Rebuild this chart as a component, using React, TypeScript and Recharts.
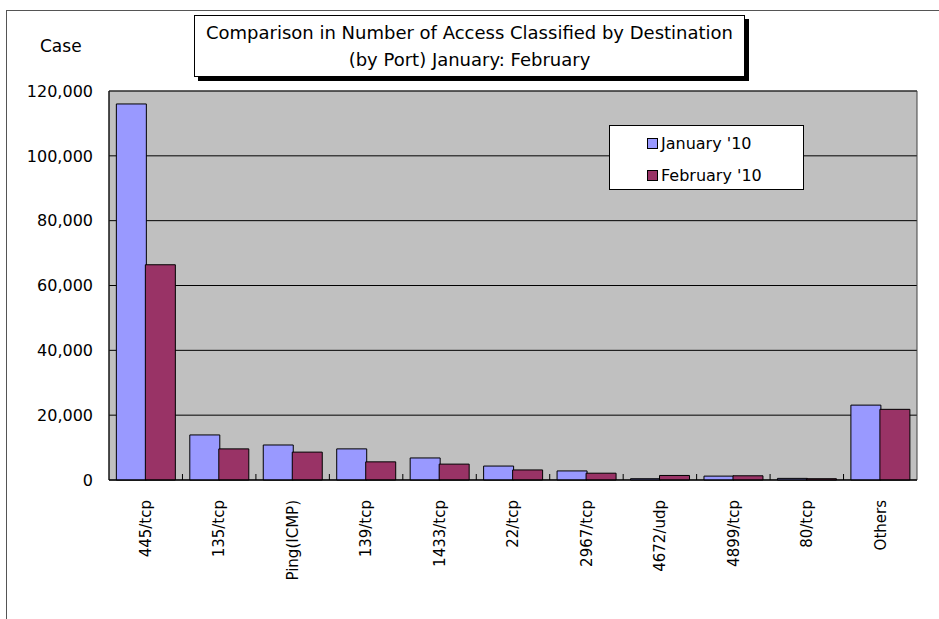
import { BarChart, Bar, XAxis, YAxis, CartesianGrid, Legend, ReferenceArea } from 'recharts';

const categories = ['445/tcp', '135/tcp', 'Ping(ICMP)', '139/tcp', '1433/tcp', '22/tcp', '2967/tcp', '4672/udp', '4899/tcp', '80/tcp', 'Others'];
const january = [116000, 13900, 10800, 9600, 6800, 4300, 2800, 400, 1200, 500, 23100];
const february = [66400, 9600, 8600, 5600, 4900, 3100, 2100, 1400, 1300, 400, 21800];
const yTicks = [0, 20000, 40000, 60000, 80000, 100000, 120000];

const JAN_COLOR = '#9999FF';
const FEB_COLOR = '#993366';
const FONT = '"DejaVu Sans", Verdana, sans-serif';

const data = categories.map((port, i) => ({
  port,
  jan: january[i],
  feb: february[i],
}));

const PortTick = (props: any) => {
  const { x, y, payload, index, visibleTicksCount } = props;
  const half = payload.offset ?? 0;
  const axisY = y - 20;
  return (
    <g>
      {index < visibleTicksCount - 1 && (
        <line x1={x + half} x2={x + half} y1={axisY} y2={axisY - 6} stroke="#000" />
      )}
      <text
        transform={`translate(${x},${y}) rotate(-90)`}
        textAnchor="end"
        dy="0.35em"
        fontSize={15}
        fontFamily={FONT}
        fill="#000"
      >
        {payload.value}
      </text>
    </g>
  );
};

const LegendBox = () => {
  const items = [
    { label: "January '10", color: JAN_COLOR },
    { label: "February '10", color: FEB_COLOR },
  ];
  return (
    <div
      style={{
        width: 195,
        height: 65,
        boxSizing: 'border-box',
        background: '#fff',
        border: '1px solid #000',
        paddingLeft: 37,
        paddingTop: 6,
        fontFamily: FONT,
        fontSize: 16,
      }}
    >
      {items.map(item => (
        <div key={item.label} style={{ display: 'flex', alignItems: 'center', height: 22, marginBottom: 10 }}>
          <span
            style={{
              display: 'inline-block',
              width: 9,
              height: 9,
              background: item.color,
              border: '1px solid #000',
              marginRight: 3,
            }}
          />
          <span>{item.label}</span>
        </div>
      ))}
    </div>
  );
};

export default function App() {
  return (
    <div
      style={{
        position: 'absolute',
        left: 0,
        top: 0,
        width: 939,
        height: 619,
        background: '#fff',
        overflow: 'hidden',
        fontFamily: FONT,
      }}
    >
      <div
        style={{
          position: 'absolute',
          left: 6,
          top: 10,
          width: 960,
          height: 640,
          border: '1px solid #555',
        }}
      />
      <BarChart
        width={939}
        height={619}
        data={data}
        margin={{ top: 91, right: 22, bottom: 0, left: 0 }}
        barCategoryGap="10%"
        barGap={-1}
      >
        <CartesianGrid vertical={false} stroke="#000" fill="#C0C0C0" />
        <XAxis
          dataKey="port"
          interval={0}
          height={139}
          tickSize={0}
          tickMargin={20}
          tickLine={false}
          axisLine={{ stroke: '#000' }}
          tick={<PortTick />}
        />
        <YAxis
          domain={[0, 120000]}
          ticks={yTicks}
          width={109}
          tickSize={0}
          tickMargin={16}
          tickLine={false}
          axisLine={{ stroke: '#000' }}
          tick={{ fontSize: 16, fontFamily: FONT, fill: '#000' }}
          tickFormatter={(v: number) => v.toLocaleString('en-US')}
        />
        <Bar dataKey="jan" name="January '10" fill={JAN_COLOR} stroke="#000" strokeWidth={1} isAnimationActive={false} />
        <Bar dataKey="feb" name="February '10" fill={FEB_COLOR} stroke="#000" strokeWidth={1} isAnimationActive={false} />
        <ReferenceArea y1={0} y2={120000} fill="none" stroke="#404040" strokeWidth={1} />
        <Legend
          layout="vertical"
          align="center"
          verticalAlign="middle"
          content={<LegendBox />}
          wrapperStyle={{ left: 609, top: 125, width: 195, height: 65 }}
        />
      </BarChart>
      <div
        style={{
          position: 'absolute',
          left: 40,
          top: 36,
          fontSize: 17,
          color: '#000',
        }}
      >
        Case
      </div>
      <div
        style={{
          position: 'absolute',
          left: 194,
          top: 15,
          width: 551,
          height: 62,
          boxSizing: 'border-box',
          background: '#fff',
          border: '1px solid #000',
          boxShadow: '4px 4px 0 #000',
          textAlign: 'center',
          fontSize: 18,
          lineHeight: '27px',
          paddingTop: 3,
          color: '#000',
        }}
      >
        Comparison in Number of Access Classified by Destination
        <br />
        (by Port) January: February
      </div>
    </div>
  );
}
